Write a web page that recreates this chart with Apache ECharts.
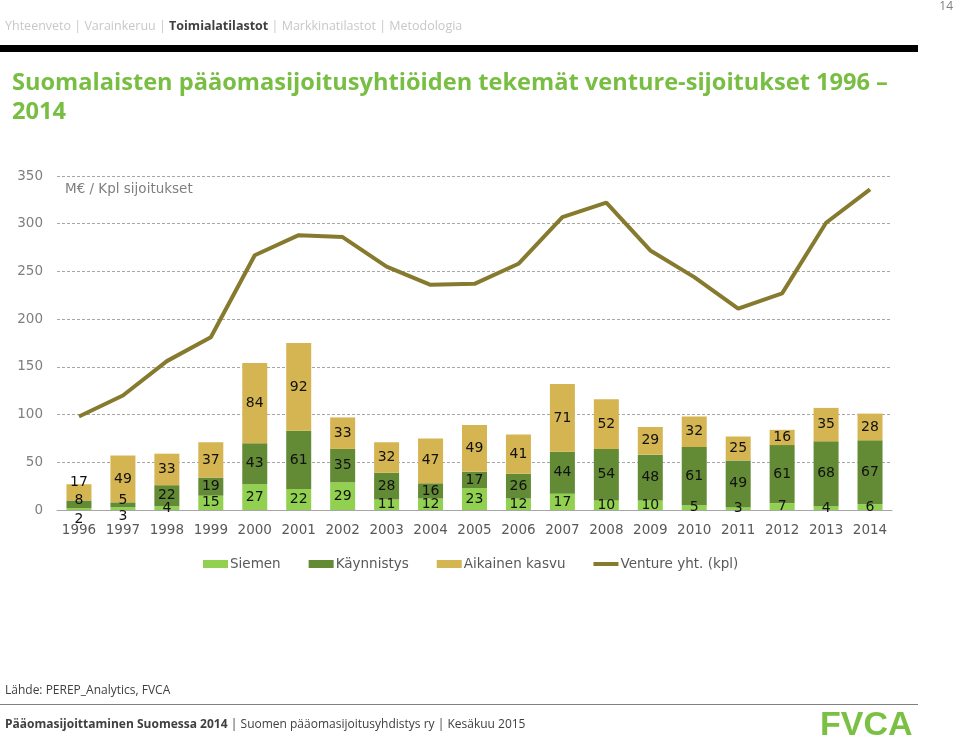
<!DOCTYPE html>
<html>
<head>
<meta charset="utf-8">
<script src="https://cdn.jsdelivr.net/npm/echarts@6/dist/echarts.min.js"></script>
<style>
html,body{margin:0;padding:0;background:#fff;}
#c{width:959px;height:745px;}
</style>
</head>
<body>
<div id="c"></div>
<script>
const years = ['1996','1997','1998','1999','2000','2001','2002','2003','2004','2005','2006','2007','2008','2009','2010','2011','2012','2013','2014'];
const siemen = [2,3,4,15,27,22,29,11,12,23,12,17,10,10,5,3,7,4,6];
const kaynnistys = [8,5,22,19,43,61,35,28,16,17,26,44,54,48,61,49,61,68,67];
const aikainenKasvu = [17,49,33,37,84,92,33,32,47,49,41,71,52,29,32,25,16,35,28];
const ventureYht = [98,120,156,181,267,288,286,255,236,237,258,307,322,272,244,211,227,301,336];
const yTicks = [0,50,100,150,200,250,300,350];
const seriesNames = ['Siemen','Käynnistys','Aikainen kasvu','Venture yht. (kpl)'];

// manual label nudges (style only)
const nudges = {
  0: {0: 10, 1: -4, 2: -10},
  1: {0: 8, 1: -4}
};
function withNudge(arr, si){
  return arr.map((v,i)=>{
    const n = nudges[i] && nudges[i][si];
    if(n){ return {value:v, label:{offset:[0,n]}}; }
    return v;
  });
}

const FONT = 'DejaVu Sans';
const labelStyle = {show:true, position:'inside', color:'#111', fontFamily:FONT, fontSize:14};

const chart = echarts.init(document.getElementById('c'), null, {renderer:'canvas'});
chart.setOption({
  animation:false,
  backgroundColor:'#fff',
  grid:{left:57, right:67, top:176, bottom:235, containLabel:false},
  legend:{
    top:552, left:198,
    itemWidth:25, itemHeight:8, itemGap:28,
    textStyle:{fontFamily:FONT, fontSize:13.5, color:'#595959', padding:[0,0,0,-3]},
    data:seriesNames.map((n,i)=> i<3 ? {name:n, icon:'rect'} : {name:n, icon:'path://M0,0H25V4H0Z'})
  },
  xAxis:{
    type:'category', data:years,
    axisLine:{lineStyle:{color:'#a6a6a6', width:1}},
    axisTick:{show:false},
    axisLabel:{fontFamily:FONT, fontSize:13.5, color:'#595959', margin:13, interval:0},
    splitLine:{show:false}
  },
  yAxis:{
    type:'value', min:yTicks[0], max:yTicks[yTicks.length-1], interval:50,
    axisLine:{show:false}, axisTick:{show:false},
    axisLabel:{fontFamily:FONT, fontSize:13.5, color:'#7f7f7f', margin:14},
    splitLine:{lineStyle:{color:'#a6a6a6', type:[3,2], width:1}}
  },
  series:[
    {name:seriesNames[0], type:'bar', stack:'s', barWidth:25, data:withNudge(siemen,0),
     itemStyle:{color:'#92d050'}, label:labelStyle},
    {name:seriesNames[1], type:'bar', stack:'s', barWidth:25, data:withNudge(kaynnistys,1),
     itemStyle:{color:'#638a34'}, label:labelStyle},
    {name:seriesNames[2], type:'bar', stack:'s', barWidth:25, data:withNudge(aikainenKasvu,2),
     itemStyle:{color:'#d5b552'}, label:labelStyle},
    {name:seriesNames[3], type:'line', data:ventureYht, symbol:'none', z:5,
     lineStyle:{color:'#867a2e', width:4}, itemStyle:{color:'#867a2e'}}
  ],
  graphic:[
    {type:'text', left:5, top:20, style:{
      text:'{g|Yhteenveto | Varainkeruu | }{b|Toimialatilastot}{g| | Markkinatilastot | Metodologia}',
      rich:{
        g:{fontFamily:'Open Sans', fontSize:12.5, fill:'#c8c8c8'},
        b:{fontFamily:'Open Sans', fontSize:12.5, fontWeight:'bold', fill:'#404040'}
      }}},
    {type:'text', right:6, top:1, style:{text:'14', fontFamily:'Open Sans', fontSize:12, fill:'#7f7f7f'}},
    {type:'rect', shape:{x:0, y:45, width:918, height:7}, style:{fill:'#000'}},
    {type:'text', left:12, top:69, style:{
      text:'Suomalaisten pääomasijoitusyhtiöiden tekemät venture-sijoitukset 1996 –\n2014',
      fontFamily:'Open Sans', fontWeight:'bold', fontSize:23.6, lineHeight:29, fill:'#78be43'}},
    {type:'text', left:65, top:182, style:{text:'M€ / Kpl sijoitukset', fontFamily:FONT, fontSize:13.5, fill:'#7f7f7f'}},
    {type:'text', left:5, top:685, style:{text:'Lähde: PEREP_Analytics, FVCA', fontFamily:'Open Sans', fontSize:12, fill:'#404040'}},
    {type:'rect', shape:{x:0, y:704, width:918, height:1}, style:{fill:'#7f7f7f'}},
    {type:'text', left:5, top:719, style:{
      text:'{b|Pääomasijoittaminen Suomessa 2014} {g|| Suomen pääomasijoitusyhdistys ry | Kesäkuu 2015}',
      rich:{
        b:{fontFamily:'Open Sans', fontSize:12, fontWeight:'bold', fill:'#404040'},
        g:{fontFamily:'Open Sans', fontSize:12, fill:'#404040'}
      }}},
    {type:'text', left:820, top:709, style:{text:'FVCA', fontFamily:'Liberation Sans', fontWeight:'bold', fontSize:34, fill:'#7ac143'}}
  ]
});
</script>
</body>
</html>
